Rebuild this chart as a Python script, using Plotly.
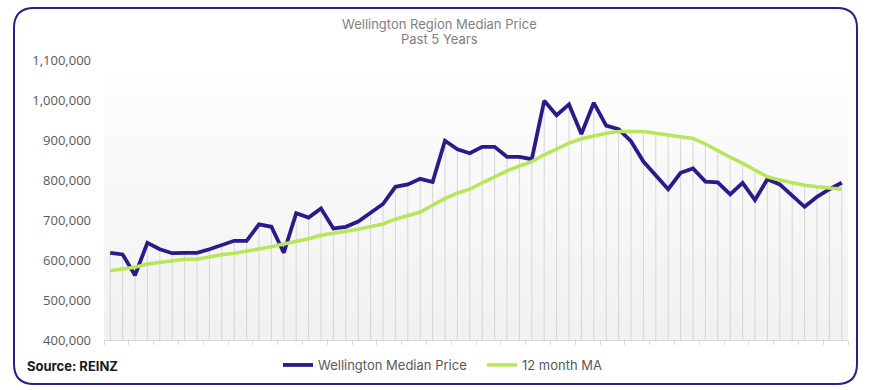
import plotly.graph_objects as go

# ---- data ----
months = [str(i + 1) for i in range(60)]
median_price = [
    618000, 614000, 562000, 643000, 627000, 617000, 618000, 618000, 627000, 637000,
    648000, 648000, 689000, 683000, 618000, 717000, 706000, 729000, 679000, 683000,
    696000, 718000, 740000, 783000, 789000, 803000, 795000, 898000, 877000, 867000,
    883000, 883000, 858000, 858000, 852000, 998000, 962000, 989000, 915000, 993000,
    936000, 927000, 897000, 846000, 810000, 777000, 818000, 829000, 796000, 794000,
    764000, 793000, 750000, 802000, 789000, 762000, 733000, 758000, 777000, 793000,
]
moving_avg = [
    573000, 577000, 582000, 590000, 594000, 597000, 602000, 602000, 608000, 613000,
    617000, 622000, 627000, 633000, 640000, 646000, 653000, 662000, 668000, 672000,
    677000, 683000, 690000, 702000, 710000, 720000, 737000, 754000, 767000, 777000,
    793000, 808000, 823000, 835000, 846000, 863000, 877000, 892000, 903000, 911000,
    917000, 921000, 922000, 921000, 917000, 912000, 907000, 904000, 890000, 873000,
    857000, 842000, 825000, 808000, 800000, 793000, 787000, 783000, 781000, 777000,
]
y_ticks = [400000, 500000, 600000, 700000, 800000, 900000, 1000000, 1100000]
y_tick_text = ["400,000", "500,000", "600,000", "700,000", "800,000", "900,000", "1,000,000", "1,100,000"]
base = 400000

# ---- geometry helpers ----
W, H = 871, 390
L, R, T, B = 104, 23, 60, 50
PW, PH = W - L - R, H - T - B


def px(x):
    return (x - L) / PW


def py(y):
    return (H - B - y) / PH


DARK = "#2c1a8a"
GREEN = "#b6e65a"

fig = go.Figure()

# drop lines from the higher series down to the axis
tops = [max(a, b) for a, b in zip(median_price, moving_avg)]
fig.add_trace(go.Scatter(
    x=months, y=tops, mode="lines",
    line=dict(width=0, color="rgba(0,0,0,0)"),
    error_y=dict(type="data", symmetric=False, array=[0] * len(tops),
                 arrayminus=[t - base for t in tops], color="#d6d6d6",
                 thickness=1, width=0),
    showlegend=False, hoverinfo="skip",
))

fig.add_trace(go.Scatter(
    x=months, y=median_price, mode="lines", name="Wellington Median Price",
    line=dict(color=DARK, width=3.8),
))
fig.add_trace(go.Scatter(
    x=months, y=moving_avg, mode="lines", name="12 month MA",
    line=dict(color=GREEN, width=3.5),
))

shapes = []
# subtle vertical background gradient in the plot area
nb = 24
for i in range(nb):
    g = int(round(255 - (255 - 241) * (1 - i / (nb - 1)) ** 0.8))
    shapes.append(dict(type="rect", xref="x domain", yref="y domain",
                       x0=0, x1=1, y0=i / nb, y1=(i + 1) / nb,
                       fillcolor=f"rgb({g},{g},{g})", line=dict(width=0),
                       layer="below"))

# rounded border around whole figure
bx0, bx1, by0, by1, r = 14, 857, 8, 384, 20
path = (
    f"M {px(bx0 + r)},{py(by0)} L {px(bx1 - r)},{py(by0)} "
    f"Q {px(bx1)},{py(by0)} {px(bx1)},{py(by0 + r)} "
    f"L {px(bx1)},{py(by1 - r)} Q {px(bx1)},{py(by1)} {px(bx1 - r)},{py(by1)} "
    f"L {px(bx0 + r)},{py(by1)} Q {px(bx0)},{py(by1)} {px(bx0)},{py(by1 - r)} "
    f"L {px(bx0)},{py(by0 + r)} Q {px(bx0)},{py(by0)} {px(bx0 + r)},{py(by0)} Z"
)
shapes.append(dict(type="path", xref="paper", yref="paper", path=path,
                   line=dict(color="#2e1f86", width=2), fillcolor="rgba(0,0,0,0)"))

fig.update_layout(
    width=W, height=H,
    margin=dict(l=L, r=R, t=T, b=B, autoexpand=False),
    paper_bgcolor="white", plot_bgcolor="white",
    font=dict(family="Open Sans", color="#595959", size=13),
    shapes=shapes,
    showlegend=True,
    legend=dict(orientation="h", x=px(278), y=py(365), xanchor="left", yanchor="middle",
                font=dict(size=13, color="#595959", family="Inter"),
                bgcolor="rgba(0,0,0,0)", entrywidth=159, tracegroupgap=0),
    annotations=[
        dict(text="Wellington Region Median Price", xref="paper", yref="paper",
             x=px(439), y=py(24), xanchor="center", yanchor="middle", showarrow=False,
             font=dict(size=13, color="#7f7f7f", family="Inter")),
        dict(text="Past 5 Years", xref="paper", yref="paper",
             x=px(439), y=py(39), xanchor="center", yanchor="middle", showarrow=False,
             font=dict(size=13, color="#7f7f7f", family="Inter")),
        dict(text="<b>Source: REINZ</b>", xref="paper", yref="paper",
             x=px(25), y=py(366), xanchor="left", yanchor="middle", showarrow=False,
             font=dict(size=13, color="#1a1a1a", family="Inter")),
    ],
    xaxis=dict(type="category", range=[-0.5, len(months) - 0.5], showticklabels=False,
               showgrid=False, zeroline=False,
               ticks="outside", tickson="boundaries", ticklen=4, tickcolor="#d9d9d9",
               showline=True, linecolor="#d9d9d9", linewidth=1, automargin=False),
    yaxis=dict(range=[base, 1100000], tickvals=y_ticks, ticktext=y_tick_text,
               showgrid=False, zeroline=False, showline=False, ticklabelstandoff=12,
               automargin=False, tickfont=dict(size=13, color="#595959")),
)

fig.write_html("out.html", config={"displayModeBar": False},
               post_script="document.body.style.margin='0';document.body.style.overflow='hidden';")
